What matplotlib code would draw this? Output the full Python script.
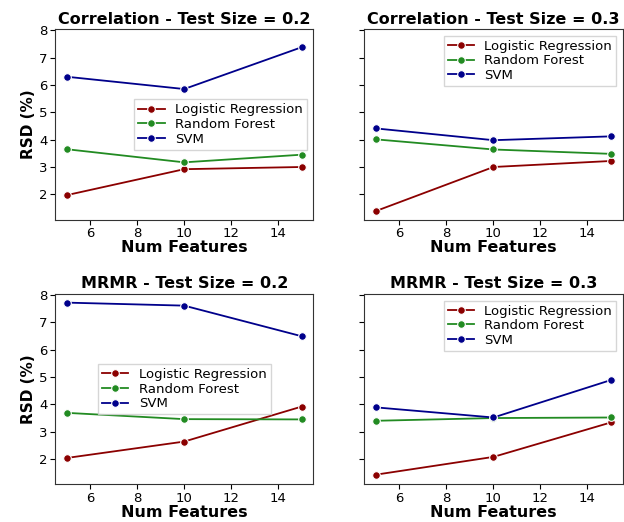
import matplotlib.pyplot as plt

num_features = [5, 10, 15]
models = ["Logistic Regression", "Random Forest", "SVM"]
colors = ["darkred", "forestgreen", "darkblue"]

corr_02 = {
    "Logistic Regression": [1.97, 2.92, 3.00],
    "Random Forest": [3.65, 3.17, 3.45],
    "SVM": [6.30, 5.85, 7.38],
}
corr_03 = {
    "Logistic Regression": [1.39, 3.00, 3.22],
    "Random Forest": [4.01, 3.64, 3.48],
    "SVM": [4.41, 3.98, 4.12],
}
mrmr_02 = {
    "Logistic Regression": [2.04, 2.64, 3.92],
    "Random Forest": [3.69, 3.46, 3.45],
    "SVM": [7.72, 7.61, 6.49],
}
mrmr_03 = {
    "Logistic Regression": [1.43, 2.08, 3.34],
    "Random Forest": [3.40, 3.50, 3.52],
    "SVM": [3.89, 3.52, 4.89],
}

panels = [
    ("Correlation - Test Size = 0.2", corr_02, "center right"),
    ("Correlation - Test Size = 0.3", corr_03, "upper right"),
    ("MRMR - Test Size = 0.2", mrmr_02, "center"),
    ("MRMR - Test Size = 0.3", mrmr_03, "upper right"),
]

fig, axes = plt.subplots(2, 2, figsize=(6.24, 5.22), dpi=100, sharey=True)
fig.subplots_adjust(left=0.088, right=0.998, bottom=0.072, top=0.944,
                    wspace=0.196, hspace=0.39)

for ax, (title, data, loc) in zip(axes.flat, panels):
    for m, c in zip(models, colors):
        ax.plot(num_features, data[m], color=c, marker="o", markersize=5.5,
                markeredgecolor="white", markeredgewidth=0.8, lw=1.3, label=m)
    ax.set_title(title, fontsize=11.5, fontweight="bold", pad=4)
    ax.set_xlabel("Num Features", fontsize=11.5, fontweight="bold", labelpad=0)
    ax.set_xticks([6, 8, 10, 12, 14])
    ax.tick_params(labelsize=9.5, pad=2)
    ax.legend(loc=loc, fontsize=9.5, handlelength=2, borderpad=0.3,
              labelspacing=0.12, fancybox=False, edgecolor="#cccccc")
    for s in ax.spines.values():
        s.set_color("#333333")

for ax in axes[:, 0]:
    ax.set_ylabel("RSD (%)", fontsize=11, fontweight="bold", labelpad=2)
axes[0, 0].set_yticks([2, 3, 4, 5, 6, 7, 8])

fig.savefig("out.png")
